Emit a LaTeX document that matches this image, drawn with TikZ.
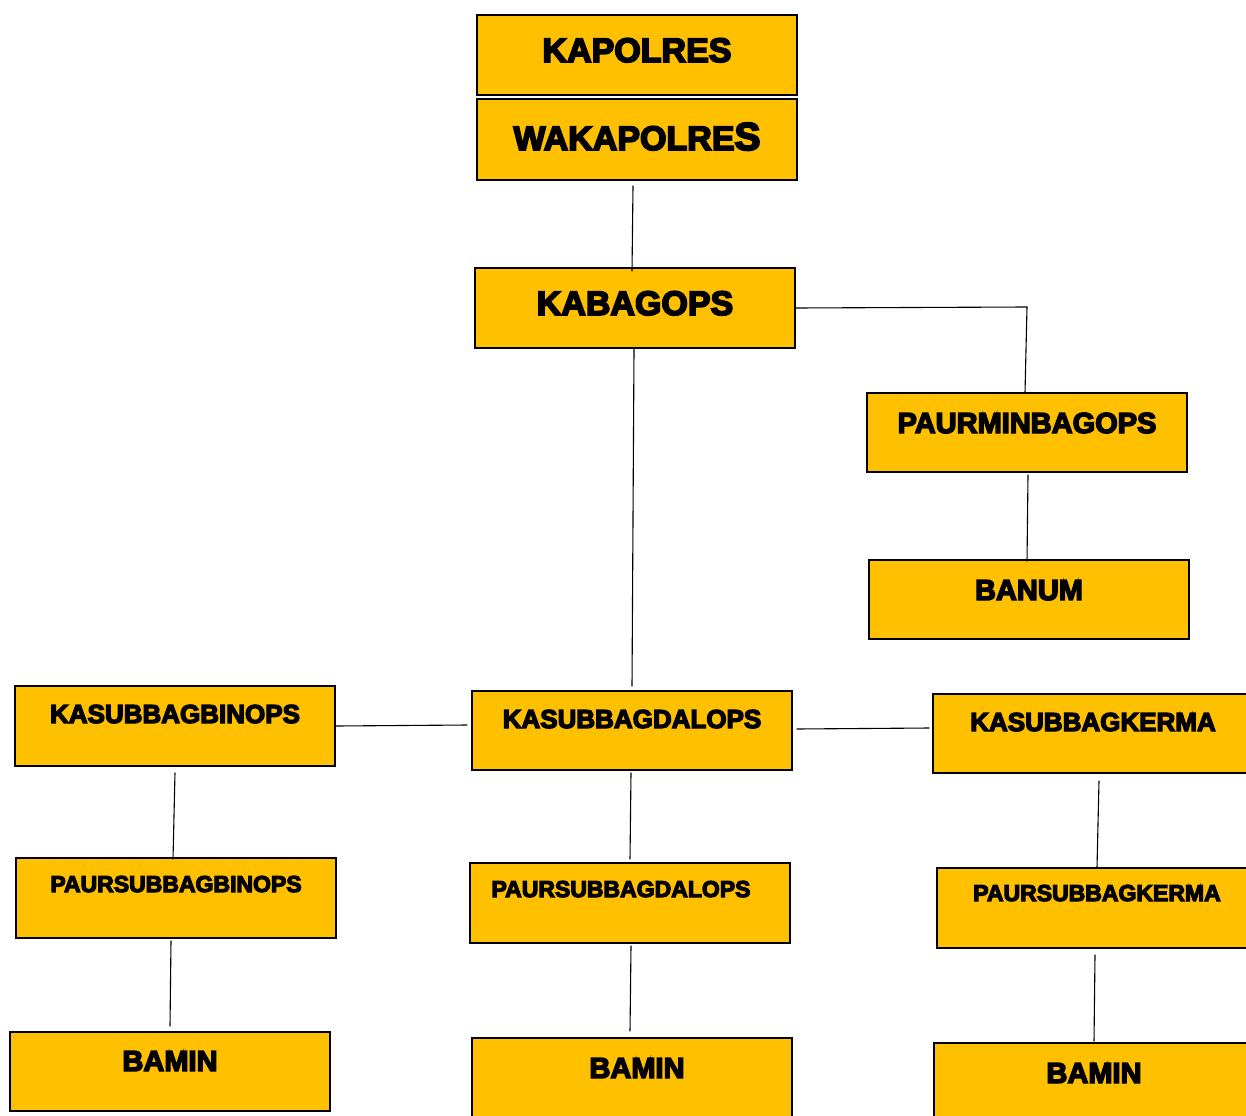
\documentclass[tikz,border=0pt]{standalone}
\usepackage{fontspec}
\setmainfont{Liberation Sans}[BoldFont={Liberation Sans Bold}, BoldFeatures={FakeBold=5}]
\definecolor{boxyellow}{HTML}{FFC000}
\tikzset{
  orgbox/.style={draw=black, line width=1.3pt, fill=boxyellow, rectangle,
    minimum width=320pt, inner sep=0pt, text width=320pt, align=center},
  conn/.style={draw=black, line width=1.1pt},
  fa/.style={font=\fontsize{34}{34}\selectfont\bfseries},
  fb/.style={font=\fontsize{29}{29}\selectfont\bfseries},
  fc/.style={font=\fontsize{26}{26}\selectfont\bfseries},
  fd/.style={font=\fontsize{23}{23}\selectfont\bfseries}
}
\begin{document}
\begin{tikzpicture}[x=1pt,y=-1pt]
\useasboundingbox (0,0) rectangle (1246,1115);
\clip (0,0) rectangle (1246,1115);
\node[orgbox, fa, text height=47pt, text depth=33pt] (kapolres) at (637,55) {KAPOLRES};
\node[orgbox, fa, text height=51pt, text depth=30pt] (wak) at (637,139.5) {WAKAPOLRE{\fontsize{39}{39}\selectfont S}};
\node[orgbox, fa, text height=47pt, text depth=33pt] (kab) at (635,308) {KABAGOPS};
\node[orgbox, fb, text height=40pt, text depth=39pt] (paurmin) at (1027,432.5) {PAURMINBAGOPS};
\node[orgbox, fb, text height=40pt, text depth=39pt] (banum) at (1029,599.5) {BANUM};
\node[orgbox, fc, text height=37pt, text depth=43pt] (kbin) at (175,726) {KASUBBAGBINOPS};
\node[orgbox, fc, text height=37pt, text depth=42pt] (kdal) at (632,730.5) {KASUBBAGDALOPS};
\node[orgbox, fc, text height=37pt, text depth=42pt] (kkerma) at (1093,733.5) {KASUBBAGKERMA};
\node[orgbox, fd, text height=34pt, text depth=46pt] (pbin) at (176,898) {PAURSUBBAGBINOPS};
\node[orgbox, fd, text height=34pt, text depth=46pt] (pdal) at (630,903) {\hbox{PAURSUBBAGDALOPS\kern18pt}};
\node[orgbox, fd, text height=33pt, text depth=47pt] (pkerma) at (1097,908) {PAURSUBBAGKERMA};
\node[orgbox, fb, text height=39pt, text depth=40pt] (bamin1) at (170,1071.5) {BAMIN};
\node[orgbox, fb, text height=40pt, text depth=40pt] (bamin2) at (632,1078) {\hbox{\kern10pt BAMIN}};
\node[orgbox, fb, text height=40pt, text depth=40pt] (bamin3) at (1094,1083) {BAMIN};
\coordinate (corner) at (1027,307);
\draw[conn] ([xshift=-4pt,yshift=-5pt]wak.south) -- ([xshift=-3pt,yshift=-4pt]kab.north);
\draw[conn] ([xshift=-1pt]kab.south) -- ([yshift=4pt]kdal.north);
\draw[conn] (kab.east) -- (corner) -- ([xshift=-2pt]paurmin.north);
\draw[conn] ([xshift=1pt,yshift=-2pt]paurmin.south) -- ([xshift=-2pt,yshift=-2pt]banum.north);
\draw[conn] (kbin.east) -- ([xshift=-4pt,yshift=5.5pt]kdal.west);
\draw[conn] ([xshift=4pt,yshift=1.5pt]kdal.east) -- ([xshift=-3pt,yshift=5.5pt]kkerma.west);
\draw[conn] ([yshift=-6pt]kbin.south) -- ([xshift=-3pt,yshift=-2pt]pbin.north);
\draw[conn] ([xshift=-5pt,yshift=-2pt]pbin.south) -- ([yshift=5pt]bamin1.north);
\draw[conn] ([xshift=-1pt,yshift=-2pt]kdal.south) -- ([yshift=3pt]pdal.north);
\draw[conn] ([xshift=1pt,yshift=-2pt]pdal.south) -- ([xshift=-2pt,yshift=6pt]bamin2.north);
\draw[conn] ([xshift=6pt,yshift=-7pt]kkerma.south) -- (pkerma.north);
\draw[conn] ([xshift=-2pt,yshift=-6pt]pkerma.south) -- ([yshift=1pt]bamin3.north);
\end{tikzpicture}
\end{document}
